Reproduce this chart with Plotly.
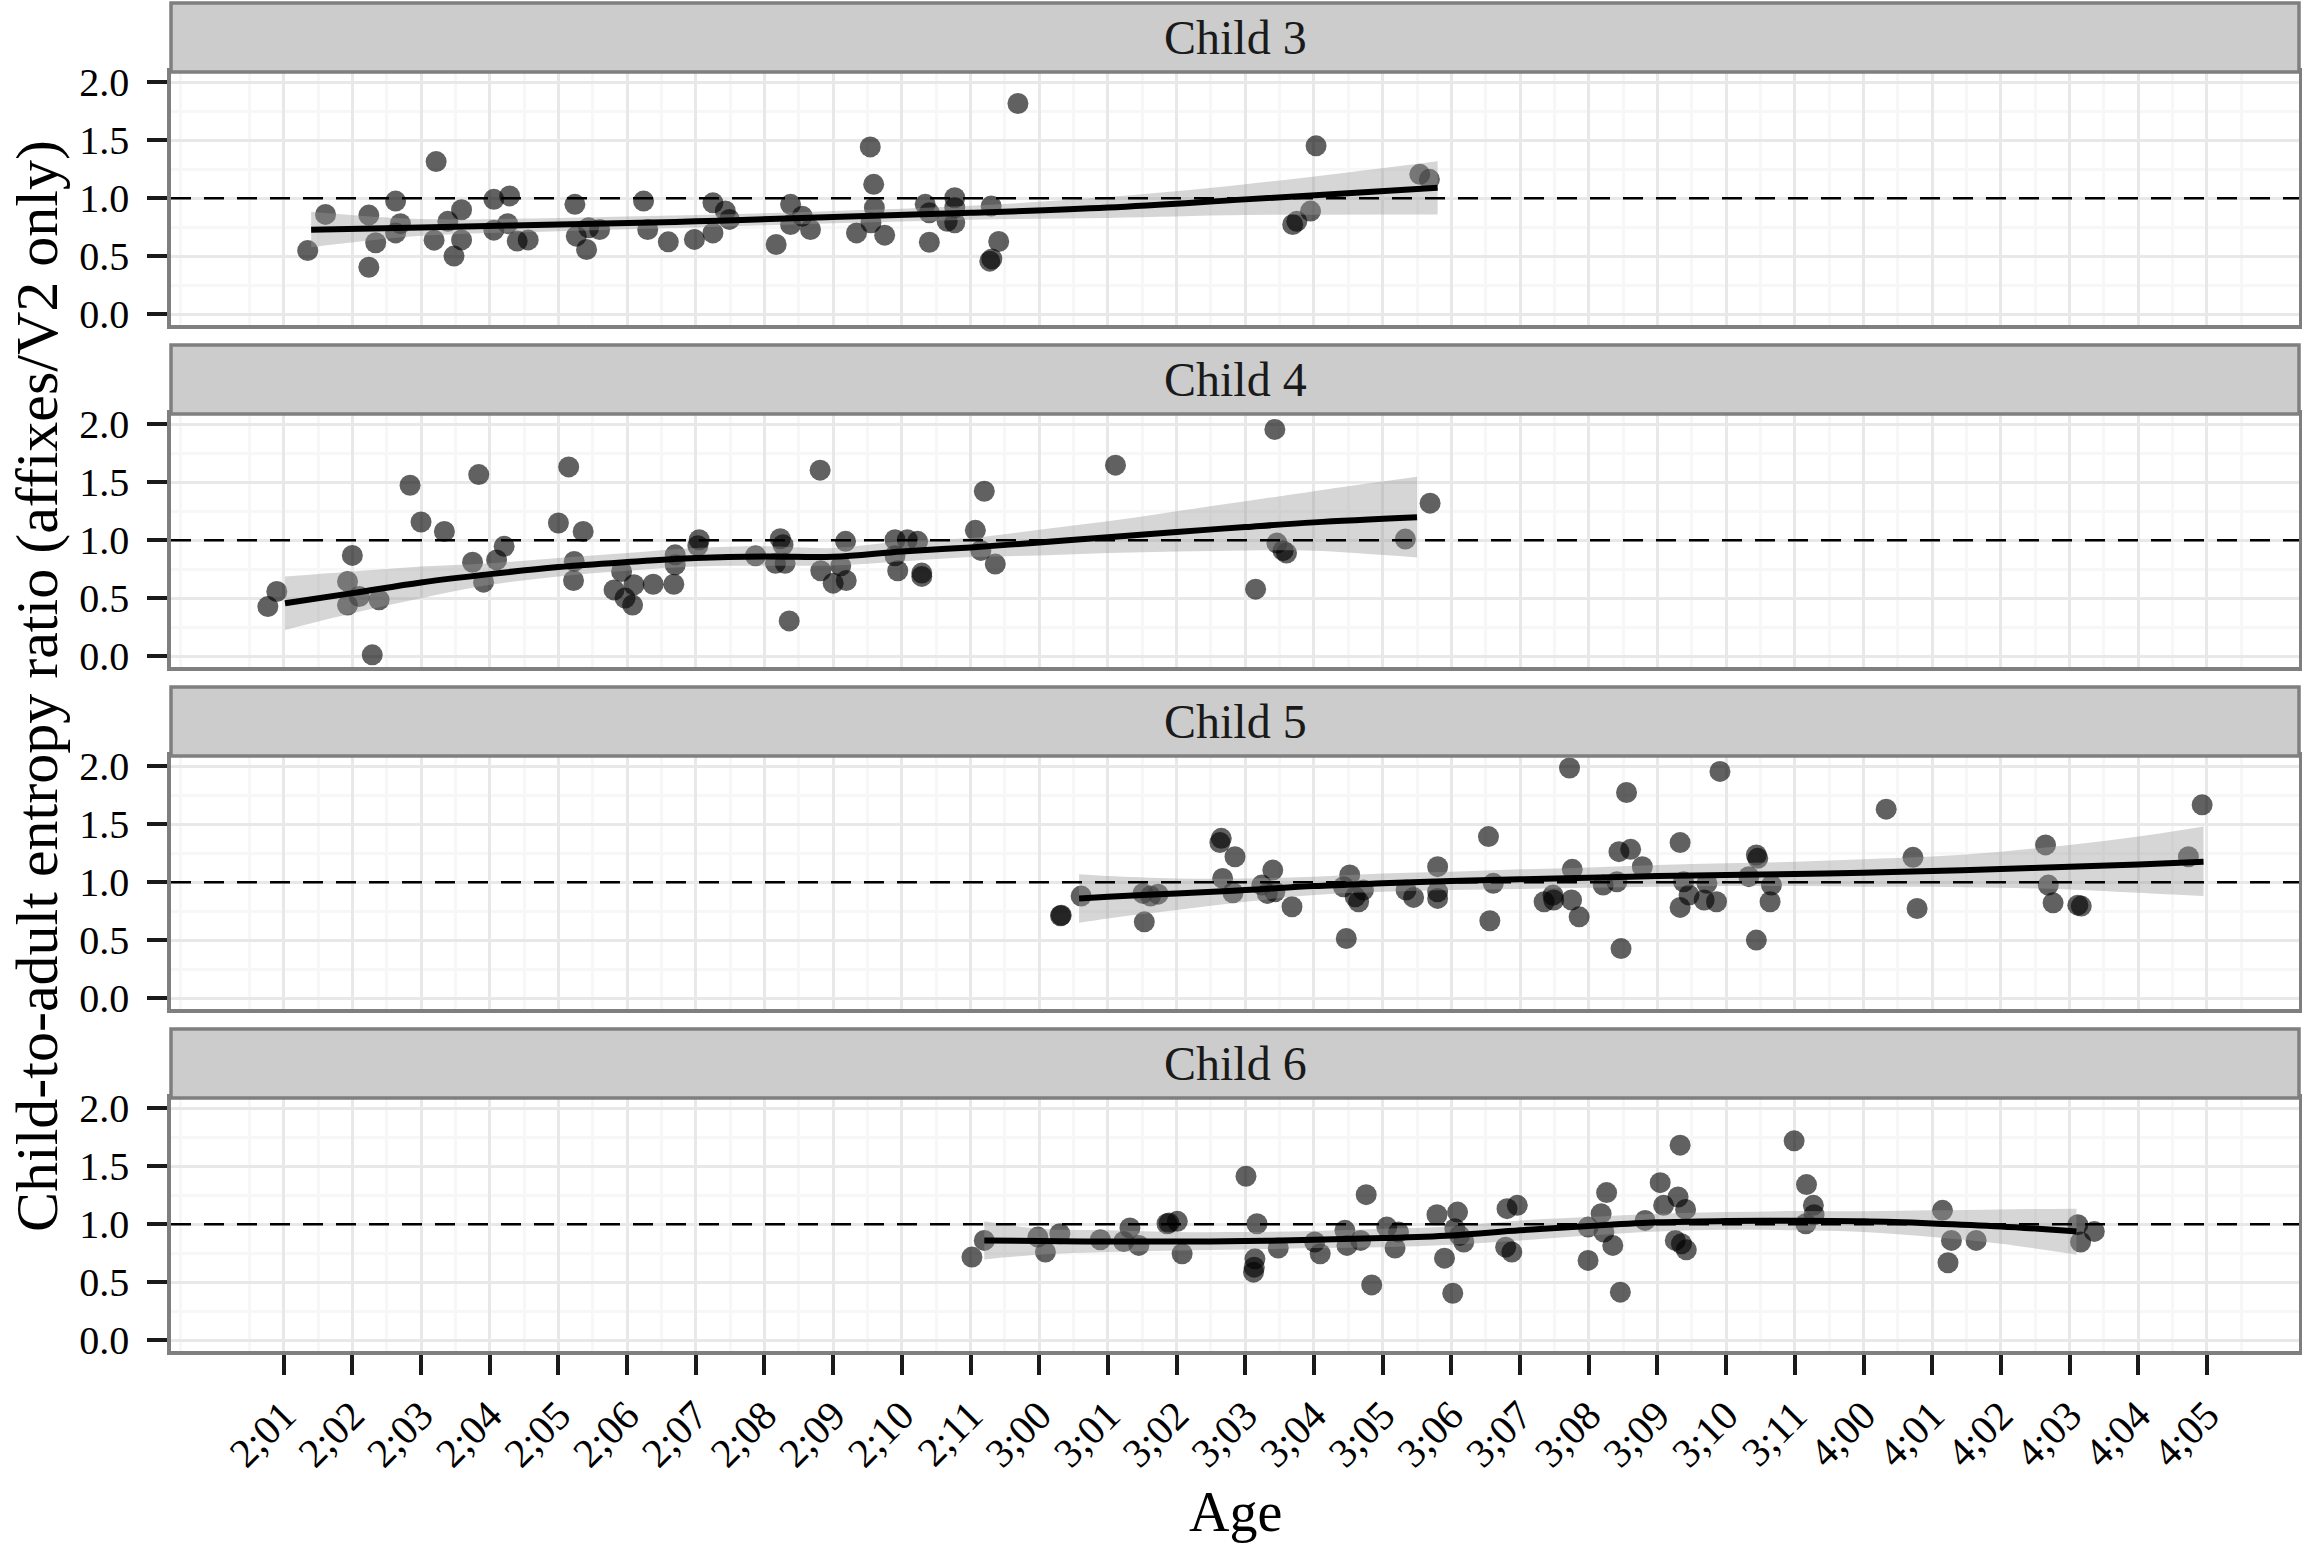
import plotly.graph_objects as go
from plotly.subplots import make_subplots

# ---------------- data (age in months, ratio) ----------------
children = ["Child 3", "Child 4", "Child 5", "Child 6"]

c3_age = [25.35, 25.61, 26.24, 26.24, 26.34, 26.63, 26.63, 26.70, 27.22, 27.19, 27.39, 27.48, 27.59, 27.59,
          28.06, 28.06, 28.29, 28.26, 28.40, 28.56, 29.24, 29.26, 29.41, 29.44, 29.60, 30.24, 30.30, 30.60,
          30.98, 31.25, 31.25, 31.43, 31.49, 32.17, 32.38, 32.38, 32.55, 32.67, 33.34, 33.54, 33.59, 33.60,
          33.55, 33.75, 34.34, 34.40, 34.40, 34.77, 34.77, 34.66, 34.77, 35.30, 35.41, 35.28, 35.31, 35.69,
          39.69, 39.75, 39.95, 40.03, 41.54, 41.68]
c3_ratio = [0.548, 0.86, 0.854, 0.404, 0.615, 0.975, 0.70, 0.78, 1.316, 0.638, 0.80, 0.50, 0.90, 0.64,
            0.99, 0.724, 1.02, 0.78, 0.63, 0.64, 0.947, 0.672, 0.557, 0.745, 0.73, 0.975, 0.73, 0.623,
            0.644, 0.96, 0.70, 0.89, 0.817, 0.60, 0.947, 0.773, 0.845, 0.73, 0.70, 1.443, 1.12, 0.918,
            0.788, 0.681, 0.947, 0.874, 0.62, 1.004, 0.918, 0.80, 0.788, 0.932, 0.626, 0.456, 0.476, 1.818,
            0.773, 0.80, 0.889, 1.452, 1.206, 1.163]

c4_age = [24.77, 24.90, 26.0, 25.93, 25.93, 26.10, 26.39, 26.29, 26.84, 27.0, 27.34, 27.84, 27.75, 27.91,
          28.10, 28.21, 29.15, 29.0, 29.36, 29.23, 29.22, 29.92, 29.81, 30.10, 29.97, 30.08, 30.38, 30.68,
          30.70, 30.70, 31.05, 31.03, 31.87, 32.23, 32.27, 32.16, 32.30, 32.36, 32.81, 32.82, 33.11, 33.0,
          33.19, 33.18, 33.90, 33.90, 33.94, 34.08, 34.23, 34.29, 34.29, 35.07, 35.15, 35.36, 35.20, 37.11,
          39.15, 39.43, 39.46, 39.55, 39.60, 41.33, 41.69]
c4_ratio = [0.427, 0.557, 0.869, 0.644, 0.44, 0.514, 0.485, 0.01, 1.475, 1.157, 1.076, 1.567, 0.81, 0.638,
            0.83, 0.947, 1.633, 1.149, 1.076, 0.817, 0.652, 0.73, 0.571, 0.615, 0.50, 0.44, 0.62, 0.62,
            0.874, 0.788, 1.004, 0.952, 0.866, 1.013, 0.961, 0.80, 0.80, 0.303, 1.605, 0.736, 0.779, 0.629,
            0.652, 0.99, 1.004, 0.866, 0.736, 1.004, 0.99, 0.716, 0.687, 1.085, 0.912, 0.794, 1.423, 1.648,
            0.577, 1.957, 0.975, 0.91, 0.889, 1.01, 1.32]

c5_age = [36.31, 36.32, 36.61, 37.53, 37.51, 37.62, 37.73, 38.65, 38.63, 38.85, 38.67, 38.82, 39.40, 39.24,
          39.32, 39.43, 39.68, 40.52, 40.43, 40.60, 40.65, 40.72, 40.47, 41.34, 41.45, 41.80, 41.80, 41.80,
          42.54, 42.61, 42.56, 43.35, 43.49, 43.48, 43.76, 43.75, 43.86, 43.72, 44.55, 44.44, 44.61, 44.78,
          44.21, 44.41, 44.47, 45.33, 45.38, 45.46, 45.33, 45.68, 45.72, 45.86, 45.91, 46.33, 46.44, 46.46,
          46.66, 46.64, 46.44, 48.33, 48.72, 48.78, 50.65, 50.69, 50.76, 51.12, 51.17, 52.73, 52.93]
c5_ratio = [0.71, 0.715, 0.88, 0.658, 0.903, 0.88, 0.897, 1.379, 1.342, 1.22, 1.033, 0.909, 1.105, 0.975,
            0.903, 0.918, 0.788, 1.062, 0.961, 0.874, 0.831, 0.932, 0.514, 0.932, 0.869, 1.134, 0.918, 0.86,
            1.394, 0.99, 0.667, 0.831, 0.846, 0.889, 1.111, 0.846, 0.701, 1.986, 1.775, 1.264, 1.284, 1.134,
            0.975, 1.004, 0.427, 1.342, 1.004, 0.889, 0.782, 0.846, 0.99, 0.831, 1.957, 1.048, 1.235, 1.206,
            0.975, 0.831, 0.50, 1.631, 1.215, 0.773, 1.322, 0.975, 0.822, 0.802, 0.794, 1.22, 1.668]

c6_age = [35.02, 35.20, 35.98, 36.09, 36.30, 36.89, 37.23, 37.32, 37.45, 37.86, 38.01, 37.89, 38.08, 39.01,
          39.17, 39.14, 39.13, 39.12, 39.48, 40.01, 40.09, 40.45, 40.48, 40.68, 40.76, 40.84, 41.06, 41.18,
          41.23, 41.79, 42.09, 42.05, 42.12, 42.18, 41.90, 42.02, 42.79, 42.88, 42.81, 42.96, 43.99, 44.18,
          44.26, 44.22, 44.35, 43.99, 44.46, 44.82, 45.04, 45.09, 45.30, 45.41, 45.33, 45.26, 45.35, 45.42,
          46.99, 47.17, 47.27, 47.28, 47.16, 49.15, 49.28, 49.23, 49.64, 51.12, 51.16, 51.36]
c6_ratio = [0.716, 0.86, 0.889, 0.759, 0.918, 0.866, 0.851, 0.967, 0.817, 1.004, 1.025, 1.01, 0.745, 1.414,
            1.004, 0.701, 0.629, 0.586, 0.794, 0.846, 0.745, 0.947, 0.817, 0.86, 1.255, 0.476, 0.975, 0.794,
            0.932, 1.082, 1.105, 0.961, 0.903, 0.846, 0.707, 0.404, 0.802, 0.759, 1.134, 1.163, 0.975, 1.091,
            1.273, 0.932, 0.817, 0.687, 0.413, 1.033, 1.359, 1.163, 1.235, 1.128, 1.683, 0.86, 0.831, 0.779,
            1.72, 1.342, 1.163, 1.082, 1.004, 1.12, 0.86, 0.667, 0.86, 0.996, 0.846, 0.938]

# smoothed fit and confidence band
c3_fit_age = [25.4, 27, 29, 31, 33, 35, 37, 39, 41.8]
c3_fit = [0.727, 0.747, 0.773, 0.80, 0.837, 0.874, 0.92, 0.99, 1.09]
c3_hi = [0.883, 0.82, 0.83, 0.855, 0.89, 0.935, 1.01, 1.12, 1.32]
c3_lo = [0.577, 0.675, 0.715, 0.748, 0.783, 0.815, 0.83, 0.855, 0.86]

c4_fit_age = [25.02, 26, 27, 28, 29, 30, 31, 32, 33, 34, 35, 36, 37, 38, 39, 40, 41.5]
c4_fit = [0.456, 0.543, 0.635, 0.707, 0.768, 0.811, 0.846, 0.860, 0.857, 0.903, 0.938, 0.981, 1.025,
          1.071, 1.114, 1.154, 1.198]
c4_hi = [0.687, 0.730, 0.773, 0.802, 0.846, 0.889, 0.932, 0.947, 0.932, 0.990, 1.019, 1.091, 1.163,
         1.250, 1.336, 1.423, 1.547]
c4_lo = [0.225, 0.369, 0.499, 0.615, 0.687, 0.736, 0.773, 0.779, 0.782, 0.817, 0.854, 0.869, 0.889,
         0.903, 0.912, 0.909, 0.851]

c5_fit_age = [36.58, 37, 38, 39, 40, 41, 42, 43, 44, 45, 46, 47, 48, 49, 50, 51, 52, 52.95]
c5_fit = [0.860, 0.874, 0.903, 0.932, 0.967, 0.990, 1.010, 1.025, 1.039, 1.053, 1.062, 1.071, 1.082,
          1.097, 1.114, 1.134, 1.154, 1.177]
c5_hi = [1.068, 1.053, 1.033, 1.033, 1.048, 1.076, 1.091, 1.111, 1.128, 1.149, 1.163, 1.177, 1.198,
         1.221, 1.264, 1.322, 1.394, 1.481]
c5_lo = [0.649, 0.687, 0.759, 0.831, 0.889, 0.918, 0.932, 0.941, 0.952, 0.961, 0.967, 0.967, 0.961,
         0.961, 0.952, 0.938, 0.909, 0.880]

c6_fit_age = [35.2, 36, 37, 38, 39, 40, 41, 42, 43, 44, 45, 46, 47, 48, 49, 50, 51.1]
c6_fit = [0.860, 0.854, 0.851, 0.851, 0.854, 0.866, 0.880, 0.903, 0.947, 0.984, 1.016, 1.027, 1.030,
          1.025, 1.007, 0.981, 0.938]
c6_hi = [1.025, 0.961, 0.947, 0.932, 0.932, 0.941, 0.961, 0.981, 1.033, 1.062, 1.091, 1.105, 1.114,
         1.111, 1.120, 1.128, 1.134]
c6_lo = [0.696, 0.736, 0.759, 0.773, 0.782, 0.794, 0.802, 0.823, 0.860, 0.903, 0.938, 0.952, 0.947,
         0.932, 0.889, 0.831, 0.736]

tick_months = list(range(25, 54))
tick_labels = ["2;01", "2;02", "2;03", "2;04", "2;05", "2;06", "2;07", "2;08", "2;09", "2;10", "2;11",
               "3;00", "3;01", "3;02", "3;03", "3;04", "3;05", "3;06", "3;07", "3;08", "3;09", "3;10",
               "3;11", "4;00", "4;01", "4;02", "4;03", "4;04", "4;05"]
y_ticks = [0.0, 0.5, 1.0, 1.5, 2.0]
y_tick_labels = ["0.0", "0.5", "1.0", "1.5", "2.0"]

points = [(c3_age, c3_ratio), (c4_age, c4_ratio), (c5_age, c5_ratio), (c6_age, c6_ratio)]
fits = [(c3_fit_age, c3_fit, c3_hi, c3_lo), (c4_fit_age, c4_fit, c4_hi, c4_lo),
        (c5_fit_age, c5_fit, c5_hi, c5_lo), (c6_fit_age, c6_fit, c6_hi, c6_lo)]

# ---------------- layout geometry ----------------
W, H = 2302, 1545
PL, PR = 171, 2299
STEP = 342
FONT = "Liberation Serif"

fig = make_subplots(rows=4, cols=1)

for i in range(4):
    r = i + 1
    ax, ay = points[i]
    fig.add_trace(go.Scatter(x=ax, y=ay, mode="markers",
                             marker=dict(size=21, color="rgba(0,0,0,0.62)", line=dict(width=0)),
                             hoverinfo="skip", showlegend=False), row=r, col=1)
    fa, fv, fh, fl = fits[i]
    fig.add_trace(go.Scatter(x=fa, y=fl, mode="lines", line=dict(width=0, shape="spline"),
                             hoverinfo="skip", showlegend=False), row=r, col=1)
    fig.add_trace(go.Scatter(x=fa, y=fh, mode="lines", fill="tonexty",
                             fillcolor="rgba(153,153,153,0.4)", line=dict(width=0, shape="spline"),
                             hoverinfo="skip", showlegend=False), row=r, col=1)
    fig.add_trace(go.Scatter(x=fa, y=fv, mode="lines", line=dict(color="black", width=6, shape="spline"),
                             hoverinfo="skip", showlegend=False), row=r, col=1)
    fig.add_hline(y=1.0, line=dict(color="black", width=2.5, dash="20px,13px"), row=r, col=1)

for i in range(4):
    top = 72 + STEP * i
    bot = 325 + STEP * i
    xa = "xaxis" if i == 0 else f"xaxis{i+1}"
    ya = "yaxis" if i == 0 else f"yaxis{i+1}"
    last = (i == 3)
    fig.layout[xa].update(
        domain=[PL / W, PR / W], range=[23.36, 54.34], tickmode="array", tickvals=tick_months,
        ticktext=tick_labels, showticklabels=last, ticks="outside" if last else "",
        ticklen=20, tickwidth=3.5, tickcolor="#1a1a1a", tickangle=-45,
        tickfont=dict(family=FONT, size=41, color="black"),
        showgrid=True, gridcolor="#e8e8e8", gridwidth=2.5,
        minor=dict(tickvals=[m + 0.5 for m in range(23, 54)], showgrid=True, gridcolor="#f7f7f7", gridwidth=2.5),
        showline=True, mirror=True, linecolor="#7f7f7f", linewidth=3.5, zeroline=False, automargin=False)
    fig.layout[ya].update(
        domain=[1 - bot / H, 1 - top / H], range=[-0.095, 2.09], tickmode="array", tickvals=y_ticks,
        ticktext=y_tick_labels, ticks="outside", ticklen=20, tickwidth=3.5, tickcolor="#1a1a1a",
        ticklabelstandoff=10, tickfont=dict(family=FONT, size=40, color="black"),
        showgrid=True, gridcolor="#e8e8e8", gridwidth=2.5,
        minor=dict(tickvals=[0.25, 0.75, 1.25, 1.75], showgrid=True, gridcolor="#f7f7f7", gridwidth=2.5),
        showline=True, mirror=True, linecolor="#7f7f7f", linewidth=3.5, zeroline=False, automargin=False)
    # strip
    s_top = 3 + STEP * i
    fig.add_shape(type="rect", xref="paper", yref="paper", x0=PL / W, x1=PR / W,
                  y0=1 - top / H, y1=1 - s_top / H, fillcolor="#cccccc",
                  line=dict(color="#7f7f7f", width=3.5), layer="above")
    fig.add_annotation(text=children[i], xref="paper", yref="paper", x=(PL + PR) / 2 / W,
                       y=1 - (s_top + top) / 2 / H, showarrow=False, xanchor="center", yanchor="middle",
                       font=dict(family=FONT, size=48, color="#1a1a1a"))

fig.add_annotation(text="Age", xref="paper", yref="paper", x=(PL + PR) / 2 / W, y=1 - 1512 / H,
                   showarrow=False, xanchor="center", yanchor="middle",
                   font=dict(family=FONT, size=56, color="black"))
fig.add_annotation(text="Child-to-adult entropy ratio (affixes/V2 only)", xref="paper", yref="paper",
                   x=37 / W, y=1 - 686 / H, textangle=-90, showarrow=False,
                   xanchor="center", yanchor="middle", font=dict(family=FONT, size=60, color="black"))

fig.update_layout(width=W, height=H, margin=dict(l=0, r=0, t=0, b=0),
                  plot_bgcolor="white", paper_bgcolor="white", showlegend=False)

fig.write_html("out.html")
